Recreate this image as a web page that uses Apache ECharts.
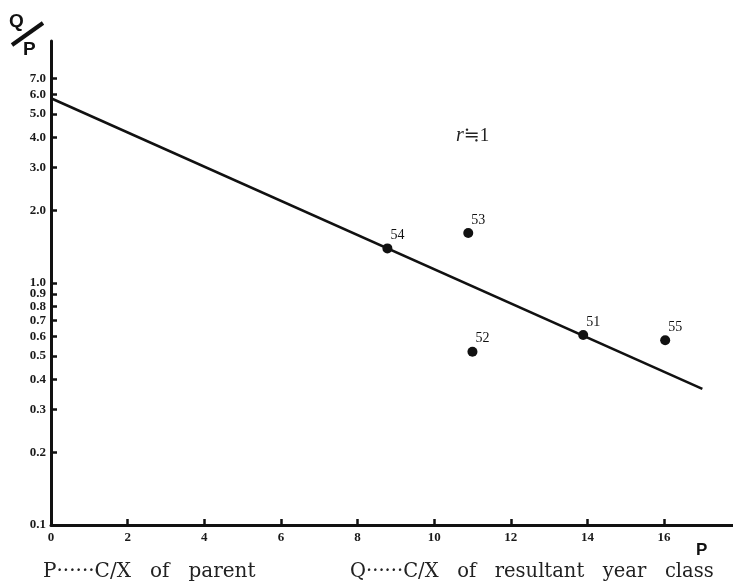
<!DOCTYPE html>
<html>
<head>
<meta charset="utf-8">
<script src="https://cdn.jsdelivr.net/npm/echarts@6/dist/echarts.min.js"></script>
<style>html,body{margin:0;padding:0;background:#fff;}#c{width:733px;height:586px;}</style>
</head>
<body>
<div id="c"></div>
<script>
// Year-class points
const pointNames = ['54', '53', '52', '51', '55'];
const pointP = [8.78, 10.89, 11.0, 13.89, 16.03];
const pointQP = [1.39, 1.61, 0.52, 0.61, 0.58];
// Fitted line endpoints
const fitP = [0, 17.0];
const fitQP = [5.8, 0.365];
// Tick values
const xTickValues = [2, 4, 6, 8, 10, 12, 14, 16];
const xLabelValues = [0, 2, 4, 6, 8, 10, 12, 14, 16];
const yTickValues = [0.2, 0.3, 0.4, 0.5, 0.6, 0.7, 0.8, 0.9, 1.0, 2.0, 3.0, 4.0, 5.0, 6.0, 7.0];
const yLabelValues = [0.1, 0.2, 0.3, 0.4, 0.5, 0.6, 0.7, 0.8, 0.9, 1.0, 2.0, 3.0, 4.0, 5.0, 6.0, 7.0];

const chart = echarts.init(document.getElementById('c'));
const serif = '"Liberation Serif", "DejaVu Serif", serif';
const wideSerif = '"DejaVu Serif", "Liberation Serif", serif';
const option = {
  backgroundColor: '#fff',
  animation: false,
  grid: { left: 51, top: 41, width: 683, height: 484 },
  xAxis: {
    type: 'value', min: 0, max: 17.8, interval: 2,
    axisLine: { show: true, lineStyle: { color: '#111', width: 3 } },
    axisTick: { show: true, inside: true, length: 6, lineStyle: { color: '#111', width: 2.5 }, customValues: xTickValues },
    axisLabel: { show: true, margin: 6, color: '#1a1a1a', fontFamily: serif, fontWeight: 'bold', fontSize: 13, customValues: xLabelValues },
    splitLine: { show: false }
  },
  yAxis: {
    type: 'log', logBase: 10, min: 0.1, max: 10,
    axisLine: { show: true, lineStyle: { color: '#111', width: 3 } },
    axisTick: { show: true, inside: true, length: 6, lineStyle: { color: '#111', width: 2.5 }, customValues: yTickValues },
    axisLabel: { show: true, margin: 5, color: '#1a1a1a', fontFamily: serif, fontWeight: 'bold', fontSize: 13,
      customValues: yLabelValues, formatter: v => Number(v).toFixed(1) },
    splitLine: { show: false }
  },
  graphic: [
    { type: 'text', left: 9, top: 12, style: { text: 'Q', font: 'bold 19px "Liberation Sans", Arial, sans-serif', fill: '#111' } },
    { type: 'line', shape: { x1: 12, y1: 45, x2: 43, y2: 23 }, style: { stroke: '#111', lineWidth: 4 } },
    { type: 'text', left: 23, top: 40, style: { text: 'P', font: 'bold 19px "Liberation Sans", Arial, sans-serif', fill: '#111' } },
    { type: 'text', left: 696, top: 542, style: { text: 'P', font: 'bold 17px "Liberation Sans", Arial, sans-serif', fill: '#111' } },
    { type: 'text', left: 456, top: 126, style: {
      text: '{i|r}{n|≒1}',
      rich: { i: { font: 'italic 20px ' + serif, fill: '#222' }, n: { font: '19px ' + serif, fill: '#222' } } } },
    { type: 'text', left: 43, top: 562, style: { text: 'P······C/X   of   parent', font: '20px ' + wideSerif, fill: '#222' } },
    { type: 'text', left: 350, top: 562, style: { text: 'Q······C/X   of   resultant   year   class', font: '19.5px ' + wideSerif, fill: '#222' } }
  ],
  series: [
    {
      type: 'line',
      data: fitP.map((p, i) => [p, fitQP[i]]),
      symbol: 'none',
      lineStyle: { color: '#111', width: 2.5 },
      z: 2
    },
    {
      type: 'scatter',
      data: pointP.map((p, i) => ({ name: pointNames[i], value: [p, pointQP[i]] })),
      symbol: 'circle',
      symbolSize: 10,
      itemStyle: { color: '#111', opacity: 1 },
      label: { show: true, position: 'inside', offset: [10, -13], formatter: '{b}', color: '#111',
        fontFamily: serif, fontSize: 14 },
      emphasis: { disabled: true },
      z: 3
    }
  ]
};
chart.setOption(option);
</script>
</body>
</html>
